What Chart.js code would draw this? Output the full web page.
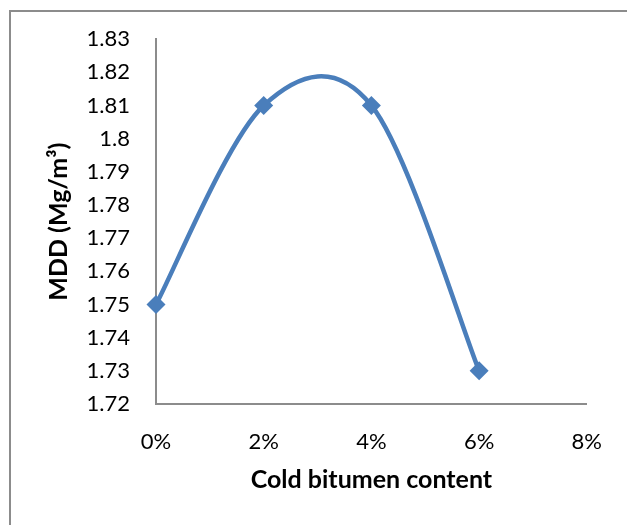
<!DOCTYPE html>
<html>
<head>
<meta charset="utf-8">
<script src="https://cdn.jsdelivr.net/npm/chart.js@4/dist/chart.umd.min.js"></script>
<style>
  html, body { margin: 0; padding: 0; background: #fff; }
  #wrap { position: relative; width: 627px; height: 525px; }
  canvas { display: block; }
</style>
</head>
<body>
<div id="wrap"><canvas id="c" width="627" height="525"></canvas></div>
<script>
const bitumenContent = [0, 2, 4, 6];          // percent
const mddValues = [1.75, 1.81, 1.81, 1.73];   // Mg/m3
const xTicks = [0, 2, 4, 6, 8];
const yMin = 1.72, yMax = 1.83, yStep = 0.01;

const FONT = "Lato, 'Open Sans', 'Liberation Sans', sans-serif";

const framePlugin = {
  id: 'frame',
  beforeDraw(chart) {
    const ctx = chart.ctx;
    ctx.save();
    ctx.strokeStyle = '#8c8c8c';
    ctx.lineWidth = 2;
    ctx.beginPath();
    ctx.moveTo(10, 526);
    ctx.lineTo(10, 11);
    ctx.lineTo(628, 11);
    ctx.stroke();
    ctx.restore();
  }
};

// Excel-style smoothing (uniform Catmull-Rom) applied to the library's own point positions
const smoothPlugin = {
  id: 'excelSmooth',
  beforeDatasetsDraw(chart) {
    chart.getSortedVisibleDatasetMetas().forEach(meta => {
      const line = meta.dataset;
      if (!line) return;
      line.updateControlPoints(chart.chartArea, meta.indexAxis);
      const pts = meta.data;
      const n = pts.length;
      for (let i = 0; i < n; i++) {
        const prev = pts[Math.max(i - 1, 0)];
        const next = pts[Math.min(i + 1, n - 1)];
        const cur = pts[i];
        const dx = (next.x - prev.x) / 6;
        const dy = (next.y - prev.y) / 6;
        cur.cp1x = cur.x - dx; cur.cp1y = cur.y - dy;
        cur.cp2x = cur.x + dx; cur.cp2y = cur.y + dy;
      }
    });
  }
};

new Chart(document.getElementById('c'), {
  type: 'scatter',
  data: {
    datasets: [{
      data: bitumenContent.map((x, i) => ({ x: x, y: mddValues[i] })),
      showLine: true,
      borderColor: '#4a7ebb',
      backgroundColor: '#4a7ebb',
      borderWidth: 4.5,
      tension: 0.33,
      pointStyle: 'rectRot',
      pointRadius: 9.5,
      pointHoverRadius: 9.5,
      pointBorderWidth: 0,
      clip: false
    }]
  },
  options: {
    responsive: false,
    animation: false,
    devicePixelRatio: 1,
    layout: { padding: { top: 39, right: 37, left: 0, bottom: 0 } },
    plugins: { legend: { display: false }, tooltip: { enabled: false } },
    scales: {
      x: {
        type: 'linear',
        min: 0, max: 8,
        afterBuildTicks(scale) { scale.ticks = xTicks.map(v => ({ value: v })); },
        afterFit(scale) { scale.height = 121; },
        grid: { display: false, drawTicks: false },
        border: { display: true, color: '#8c8c8c', width: 2 },
        ticks: {
          padding: 25,
          color: '#000',
          font: { family: FONT, size: 22 },
          maxRotation: 0,
          callback: v => v + '%'
        },
        title: {
          display: true,
          text: 'Cold bitumen content',
          color: '#000',
          font: { family: FONT, size: 25, weight: 'bold' },
          padding: { top: 0, bottom: 30 }
        }
      },
      y: {
        min: yMin, max: yMax,
        afterFit(scale) { scale.width = 156; },
        grid: { display: false, drawTicks: false },
        border: { display: true, color: '#8c8c8c', width: 2 },
        ticks: {
          stepSize: yStep,
          padding: 26,
          color: '#000',
          font: { family: FONT, size: 22 },
          callback: v => String(parseFloat(v.toFixed(2)))
        },
        title: {
          display: true,
          text: 'MDD (Mg/m³)',
          color: '#000',
          font: { family: FONT, size: 25, weight: 'bold' },
          padding: { top: 44, bottom: 0 }
        }
      }
    }
  },
  plugins: [framePlugin, smoothPlugin]
});
</script>
</body>
</html>
